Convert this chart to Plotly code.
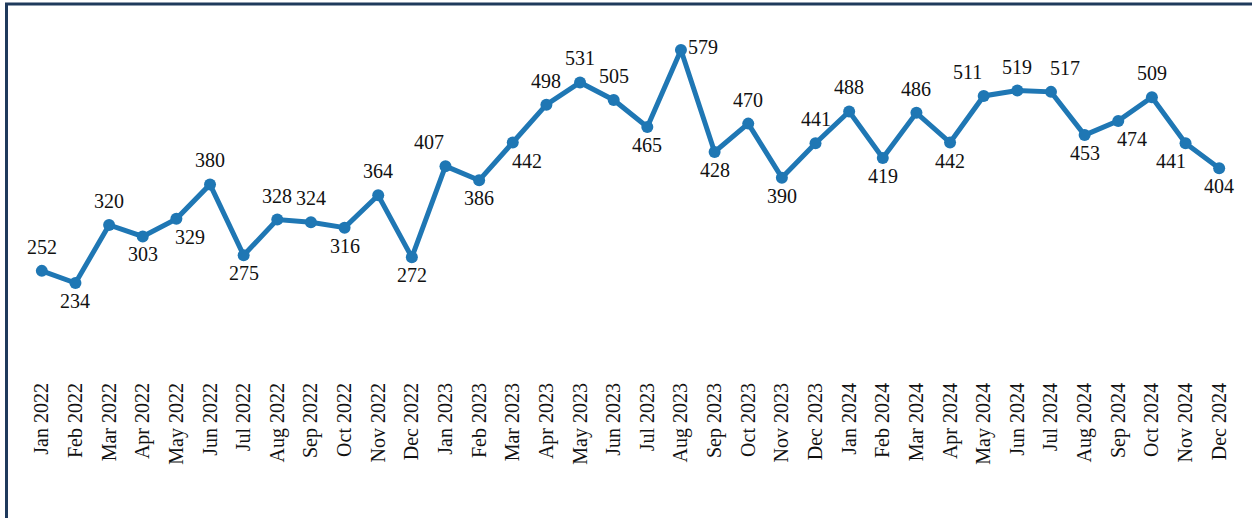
import plotly.graph_objects as go

months = ["Jan", "Feb", "Mar", "Apr", "May", "Jun", "Jul", "Aug", "Sep", "Oct", "Nov", "Dec"]
years = ["2022", "2023", "2024"]
categories = [f"{m} {y}" for y in years for m in months]

values = [252, 234, 320, 303, 329, 380, 275, 328, 324, 316, 364, 272,
          407, 386, 442, 498, 531, 505, 465, 579, 428, 470, 390, 441,
          488, 419, 486, 442, 511, 519, 517, 453, 474, 509, 441, 404]

# label placement codes: t=top, b=bottom, tl/tr/bl/br corners, r=right
label_pos = ["t", "b", "t", "b", "br", "t", "b", "t", "t", "b", "t", "b",
             "tl", "b", "br", "t", "t", "t", "b", "r", "b", "t", "b", "t",
             "t", "b", "t", "b", "tl", "t", "tr", "b", "br", "t", "bl", "b"]

W, H = 1252, 518
L, R, T, B = 25, 16, 10, 140
FONT = "'Liberation Serif', 'DejaVu Serif', serif"
LINE_COLOR = "#1f77b4"

fig = go.Figure()
fig.add_trace(go.Scatter(
    x=categories, y=values, mode="lines+markers",
    line=dict(color=LINE_COLOR, width=5),
    marker=dict(color=LINE_COLOR, size=12),
    hoverinfo="x+y", showlegend=False,
))

shift = {
    "t": (0, 24), "b": (0, -18), "tl": (-16, 24), "tr": (14, 24),
    "bl": (-15, -18), "br": (14, -18), "r": (22, 3),
}
for c, v, p in zip(categories, values, label_pos):
    dx, dy = shift[p]
    fig.add_annotation(x=c, y=v, text=str(v), showarrow=False,
                       xshift=dx, yshift=dy,
                       font=dict(family=FONT, size=20, color="#111111"))

pw = W - L - R
ph = H - T - B
def px2paper_x(px):
    return (px - L) / pw
def px2paper_y(py):
    return (H - B - py) / ph

fig.add_shape(type="rect", xref="paper", yref="paper",
              x0=px2paper_x(6.5), x1=px2paper_x(W + 20),
              y0=px2paper_y(H + 20), y1=px2paper_y(4),
              line=dict(color="#1f3a5c", width=3), fillcolor="rgba(0,0,0,0)",
              layer="above")

fig.update_layout(
    width=W, height=H,
    margin=dict(l=L, r=R, t=T, b=B),
    paper_bgcolor="white", plot_bgcolor="white",
    font=dict(family=FONT, size=20, color="#111111"),
    xaxis=dict(type="category", tickangle=-90, showgrid=False, zeroline=False,
               showline=False, ticks="", tickfont=dict(family=FONT, size=20, color="#111111"),
               range=[-0.5, len(categories) - 0.5]),
    yaxis=dict(range=[93.4, 638.2], visible=False, showgrid=False, zeroline=False),
)

fig.write_html("out.html",
               config={"displayModeBar": False},
               post_script="document.body.style.margin='0';document.body.style.overflow='hidden';")
